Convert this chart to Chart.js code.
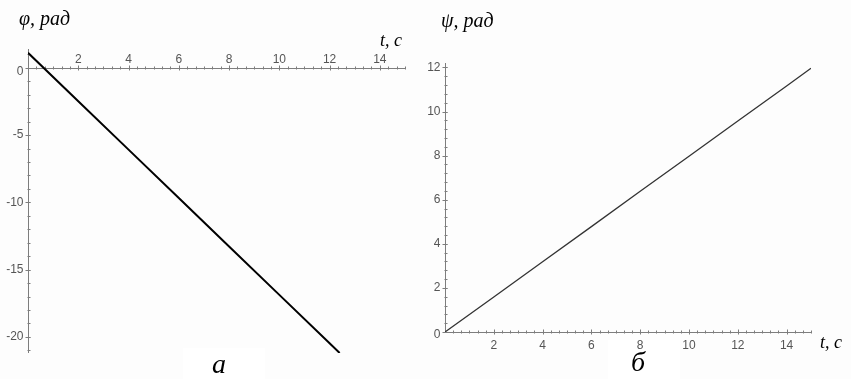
<!DOCTYPE html>
<html>
<head>
<meta charset="utf-8">
<script src="https://cdn.jsdelivr.net/npm/chart.js@4.4.0/dist/chart.umd.min.js"></script>
<style>
  body { margin: 0; background: #fdfdfd; }
  #wrap { position: relative; width: 851px; height: 379px; overflow: hidden; }
  canvas { position: absolute; top: 0; }
  .lbl { position: absolute; font-family: "Liberation Serif", "DejaVu Serif", serif; font-style: italic; color: #000; white-space: nowrap; line-height: 1; }
  .cap { position: absolute; background: #fff; }
</style>
</head>
<body>
<div id="wrap">
  <div class="cap" style="left:183px;top:348px;width:82px;height:31px"></div>
  <div class="cap" style="left:608px;top:340px;width:72px;height:39px"></div>
  <canvas id="phiChart" width="425" height="379" style="left:0"></canvas>
  <canvas id="psiChart" width="426" height="379" style="left:425px"></canvas>
  <div class="lbl" style="left:19px;top:8px;font-size:20px">φ, рад</div>
  <div class="lbl" style="left:380px;top:31px;font-size:18px">t, с</div>
  <div class="lbl" style="left:212px;top:350px;font-size:28px">а</div>
  <div class="lbl" style="left:441px;top:10px;font-size:20px">ψ, рад</div>
  <div class="lbl" style="left:820px;top:333px;font-size:18px">t, с</div>
  <div class="lbl" style="left:631px;top:348px;font-size:28px">б</div>
</div>
<script>
// angle φ(t)
const timeA = [0, 2, 4, 6, 8, 10, 12, 12.4];
const phiValues = [1.12, -2.48, -6.08, -9.68, -13.28, -16.88, -20.48, -21.2];

// angle ψ(t)
const timeB = [0, 2, 4, 6, 8, 10, 12, 14, 15];
const psiValues = [0, 1.59, 3.19, 4.78, 6.38, 7.97, 9.57, 11.16, 11.96];

// labelled ticks
const phiTicksX = [2, 4, 6, 8, 10, 12, 14];
const phiTicksY = [0, -5, -10, -15, -20];
const psiTicksX = [2, 4, 6, 8, 10, 12, 14];
const psiTicksY = [0, 2, 4, 6, 8, 10, 12];

// axes crossing at zero, drawn under the curve
const crossAxes = {
  id: 'crossAxes',
  beforeDatasetsDraw(chart, args, o) {
    const { ctx } = chart;
    const xs = chart.scales.x, ys = chart.scales.y;
    const px = Math.round(xs.getPixelForValue(0)) + 0.5;
    const py = Math.round(ys.getPixelForValue(0)) + 0.5;
    ctx.save();
    ctx.strokeStyle = '#7d7d7d';
    ctx.lineWidth = 1;
    ctx.beginPath();
    ctx.moveTo(px, py); ctx.lineTo(xs.right, py);
    ctx.moveTo(px, ys.top); ctx.lineTo(px, ys.bottom);

    // minor ticks
    for (let i = 1; i * o.minorX <= xs.max + 1e-9; i++) {
      const x = Math.round(xs.getPixelForValue(i * o.minorX)) + 0.5;
      ctx.moveTo(x, py - 2); ctx.lineTo(x, py + 1);
    }
    for (let v = Math.ceil(ys.min / o.minorY) * o.minorY; v <= ys.max; v += o.minorY) {
      const y = Math.round(ys.getPixelForValue(v)) + 0.5;
      ctx.moveTo(px - 1, y); ctx.lineTo(px + 2, y);
    }
    // major ticks
    o.ticksX.forEach(v => {
      const x = Math.round(xs.getPixelForValue(v)) + 0.5;
      ctx.moveTo(x, py - 3); ctx.lineTo(x, py + 2);
    });
    o.ticksY.forEach(v => {
      const y = Math.round(ys.getPixelForValue(v)) + 0.5;
      ctx.moveTo(px - 3, y); ctx.lineTo(px + 2, y);
    });
    ctx.stroke();

    ctx.fillStyle = '#555';
    ctx.font = '12px "Liberation Sans", Arial, sans-serif';
    ctx.textAlign = 'center';
    ctx.textBaseline = o.labelsAbove ? 'bottom' : 'top';
    o.ticksX.forEach(v => {
      const y = o.labelsAbove ? py - 3 : py + 7;
      ctx.fillText(String(v), xs.getPixelForValue(v), y);
    });
    ctx.textAlign = 'right';
    ctx.textBaseline = 'middle';
    o.ticksY.forEach(v => {
      const y = ys.getPixelForValue(v) + (v === 0 ? o.zeroShift : 0);
      ctx.fillText(String(v), px - 5, y);
    });
    ctx.restore();
  }
};

function makeChart(id, times, values, range, pad, line, axes) {
  return new Chart(document.getElementById(id), {
    type: 'line',
    data: {
      datasets: [{
        data: times.map((t, i) => ({ x: t, y: values[i] })),
        borderColor: line.color,
        borderWidth: line.width,
        pointRadius: 0,
        tension: 0
      }]
    },
    options: {
      responsive: false,
      animation: false,
      layout: { padding: pad },
      plugins: { legend: { display: false }, tooltip: { enabled: false }, crossAxes: axes },
      scales: {
        x: { type: 'linear', display: false, min: 0, max: 15 },
        y: { type: 'linear', display: false, min: range[0], max: range[1] }
      }
    },
    plugins: [crossAxes]
  });
}

makeChart('phiChart', timeA, phiValues, [-21.2, 1.4],
  { left: 28, right: 20, top: 49, bottom: 26 },
  { color: '#000', width: 2 },
  { ticksX: phiTicksX, ticksY: phiTicksY, minorX: 1 / 3, minorY: 1, labelsAbove: true, zeroShift: 4 });

makeChart('psiChart', timeB, psiValues, [0, 12.2],
  { left: 20, right: 40, top: 63, bottom: 47 },
  { color: '#333', width: 1.3 },
  { ticksX: psiTicksX, ticksY: psiTicksY, minorX: 1 / 3, minorY: 0.4, labelsAbove: false, zeroShift: 3 });
</script>
</body>
</html>
